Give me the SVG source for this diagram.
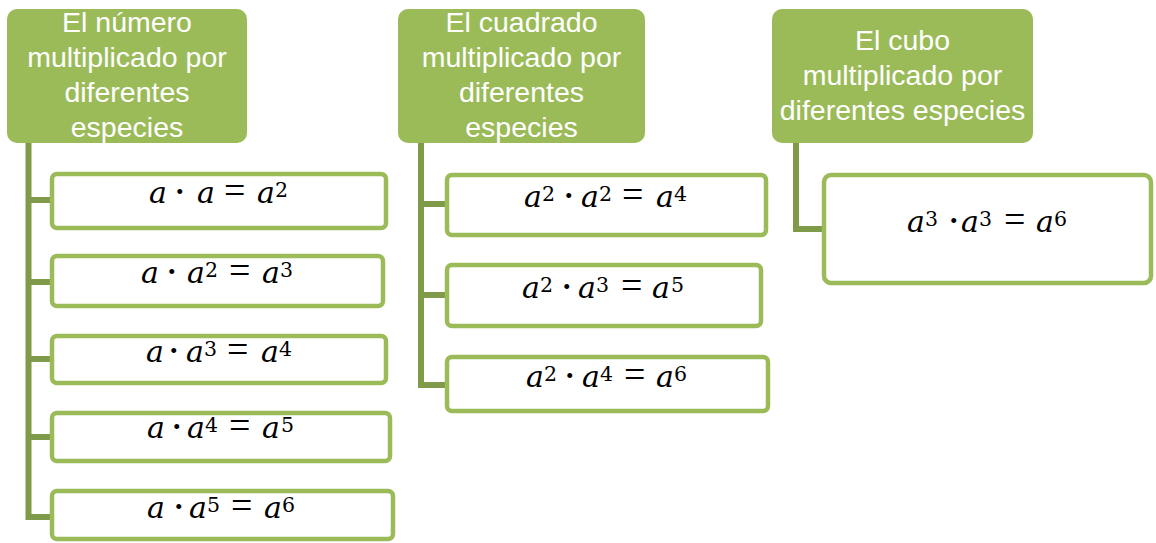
<svg xmlns="http://www.w3.org/2000/svg" width="1156" height="543" viewBox="0 0 1156 543">
<style>
.hd{fill:#9bbb59}
.ht{fill:#ffffff;font-family:"Liberation Sans",Arial,sans-serif;font-size:28.5px;text-anchor:middle}
.bx{fill:#ffffff;stroke:#9bbb59;stroke-width:4.5}
.cn{fill:none;stroke:#7f9a48;stroke-width:6;stroke-linejoin:miter}
.eq{fill:#000000}
.v{font-family:"DejaVu Serif",serif;font-style:italic;font-size:30px}
.o{font-family:"Liberation Serif","Times New Roman",serif;font-size:42px}
.e{font-family:"Liberation Serif","Times New Roman",serif;font-size:38px}
.s{font-family:"DejaVu Serif",serif;font-size:20.5px}
</style>
<rect width="1156" height="543" fill="#ffffff"/>
<g id="connectors">
<path class="cn" d="M28.5,143 V517 H52 M28.5,200 H52 M28.5,282 H52 M28.5,359 H52 M28.5,437 H52"/>
<path class="cn" d="M421,143 V385 H447 M421,204 H447 M421,295 H447"/>
<path class="cn" d="M796,143 V229 H824"/>
</g>
<g id="h1">
<rect class="hd" x="7" y="9" width="240" height="134" rx="10"/>
<text class="ht"><tspan x="127" y="32">El número</tspan><tspan x="127" y="67">multiplicado por</tspan><tspan x="127" y="102">diferentes</tspan><tspan x="127" y="137">especies</tspan></text>
</g>
<g id="h2">
<rect class="hd" x="398" y="9" width="247" height="134" rx="10"/>
<text class="ht"><tspan x="521.5" y="32">El cuadrado</tspan><tspan x="521.5" y="67">multiplicado por</tspan><tspan x="521.5" y="102">diferentes</tspan><tspan x="521.5" y="137">especies</tspan></text>
</g>
<g id="h3">
<rect class="hd" x="772" y="9" width="261" height="134" rx="10"/>
<text class="ht"><tspan x="902.5" y="50">El cubo</tspan><tspan x="902.5" y="85">multiplicado por</tspan><tspan x="902.5" y="120">diferentes especies</tspan></text>
</g>
<g id="n1a">
<rect class="bx" x="52" y="174" width="334" height="54" rx="5"/>
<text class="eq"><tspan class="v" x="149" y="203">a</tspan><tspan class="o" x="172.75" y="206">·</tspan><tspan class="v" x="197" y="203">a</tspan><tspan class="e" x="224" y="203">=</tspan><tspan class="v" x="257" y="203">a</tspan><tspan class="s" x="275" y="197">2</tspan></text>
</g>
<g id="n1b">
<rect class="bx" x="52" y="256" width="331" height="50" rx="5"/>
<text class="eq"><tspan class="v" x="141" y="283">a</tspan><tspan class="o" x="164.75" y="286">·</tspan><tspan class="v" x="187" y="283">a</tspan><tspan class="s" x="205" y="277">2</tspan><tspan class="e" x="229" y="283">=</tspan><tspan class="v" x="262" y="283">a</tspan><tspan class="s" x="280" y="277">3</tspan></text>
</g>
<g id="n1c">
<rect class="bx" x="52" y="336" width="334" height="47" rx="5"/>
<text class="eq"><tspan class="v" x="146" y="362">a</tspan><tspan class="o" x="166.75" y="365">·</tspan><tspan class="v" x="186" y="362">a</tspan><tspan class="s" x="204" y="356">3</tspan><tspan class="e" x="227" y="362">=</tspan><tspan class="v" x="261" y="362">a</tspan><tspan class="s" x="279" y="356">4</tspan></text>
</g>
<g id="n1d">
<rect class="bx" x="52" y="413" width="338" height="48" rx="5"/>
<text class="eq"><tspan class="v" x="147" y="438">a</tspan><tspan class="o" x="169.75" y="441">·</tspan><tspan class="v" x="187" y="438">a</tspan><tspan class="s" x="205" y="432">4</tspan><tspan class="e" x="229" y="438">=</tspan><tspan class="v" x="262" y="438">a</tspan><tspan class="s" x="281" y="432">5</tspan></text>
</g>
<g id="n1e">
<rect class="bx" x="52" y="491" width="341" height="48" rx="5"/>
<text class="eq"><tspan class="v" x="147" y="518">a</tspan><tspan class="o" x="171.75" y="521">·</tspan><tspan class="v" x="189" y="518">a</tspan><tspan class="s" x="207" y="512">5</tspan><tspan class="e" x="231" y="518">=</tspan><tspan class="v" x="264" y="518">a</tspan><tspan class="s" x="282" y="512">6</tspan></text>
</g>
<g id="n2a">
<rect class="bx" x="447" y="175" width="319" height="60" rx="5"/>
<text class="eq"><tspan class="v" x="524" y="207">a</tspan><tspan class="s" x="542" y="201">2</tspan><tspan class="o" x="561.75" y="210">·</tspan><tspan class="v" x="581" y="207">a</tspan><tspan class="s" x="599" y="201">2</tspan><tspan class="e" x="622" y="207">=</tspan><tspan class="v" x="656" y="207">a</tspan><tspan class="s" x="674" y="201">4</tspan></text>
</g>
<g id="n2b">
<rect class="bx" x="447" y="265" width="314" height="61" rx="5"/>
<text class="eq"><tspan class="v" x="522" y="298">a</tspan><tspan class="s" x="540" y="292">2</tspan><tspan class="o" x="559.75" y="301">·</tspan><tspan class="v" x="578" y="298">a</tspan><tspan class="s" x="596" y="292">3</tspan><tspan class="e" x="621" y="298">=</tspan><tspan class="v" x="652" y="298">a</tspan><tspan class="s" x="671" y="292">5</tspan></text>
</g>
<g id="n2c">
<rect class="bx" x="447" y="357" width="321" height="54" rx="5"/>
<text class="eq"><tspan class="v" x="526" y="387">a</tspan><tspan class="s" x="544" y="381">2</tspan><tspan class="o" x="562.75" y="390">·</tspan><tspan class="v" x="582" y="387">a</tspan><tspan class="s" x="600" y="381">4</tspan><tspan class="e" x="624" y="387">=</tspan><tspan class="v" x="656" y="387">a</tspan><tspan class="s" x="674" y="381">6</tspan></text>
</g>
<g id="n3a">
<rect class="bx" x="824" y="175" width="327" height="108" rx="7"/>
<text class="eq"><tspan class="v" x="907" y="232">a</tspan><tspan class="s" x="925" y="226">3</tspan><tspan class="o" x="946.75" y="235">·</tspan><tspan class="v" x="961" y="232">a</tspan><tspan class="s" x="979" y="226">3</tspan><tspan class="e" x="1004" y="232">=</tspan><tspan class="v" x="1036" y="232">a</tspan><tspan class="s" x="1054" y="226">6</tspan></text>
</g>
</svg>
